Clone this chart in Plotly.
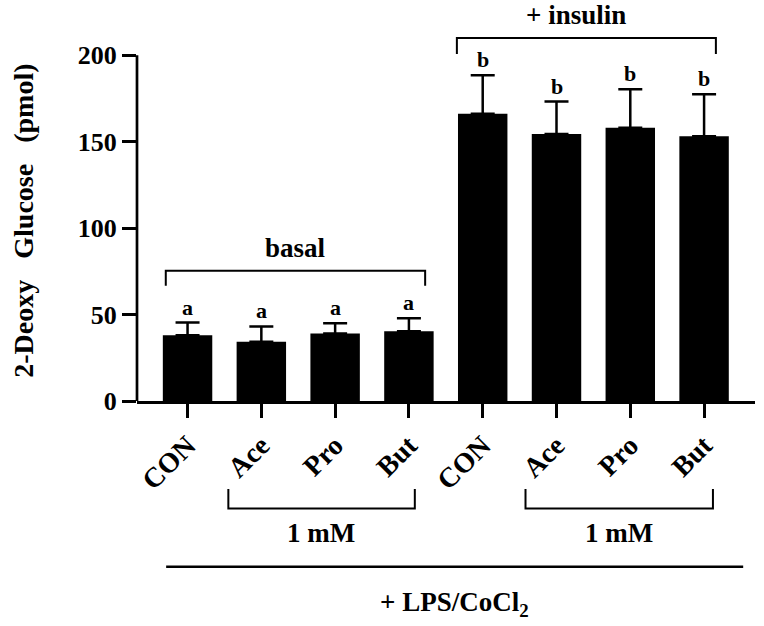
import plotly.graph_objects as go

# ---- data ----
categories = ["CON", "Ace", "Pro", "But", "CON", "Ace", "Pro", "But"]
means = [38.1, 34.2, 39.0, 40.4, 166.2, 154.4, 158.1, 153.2]
errors = [7.3, 8.9, 6.0, 7.5, 22.2, 18.8, 22.2, 24.2]
letters = ["a", "a", "a", "a", "b", "b", "b", "b"]
y_ticks = [0, 50, 100, 150, 200]

x = list(range(len(categories)))

FONT = "Liberation Serif"
X_RANGE = [-0.685, 7.69]
Y_RANGE = [0, 225]
M_L, M_R, M_T, M_B = 137, 9, 12.3, 225
W, H = 764, 626
PLOT_H = H - M_T - M_B
PLOT_W = W - M_L - M_R


def below(px):
    """paper y for a distance in pixels below the x axis"""
    return -px / PLOT_H


def bold(size):
    return dict(family=FONT, size=size, color="black", weight="bold")


fig = go.Figure()
fig.add_trace(go.Bar(
    x=x, y=means, width=0.67,
    marker=dict(color="black", line=dict(width=0)),
    error_y=dict(type="data", symmetric=False, array=errors,
                 arrayminus=[0] * len(errors), color="black",
                 thickness=2.5, width=12),
    showlegend=False,
))

# significance letters
for xi, m, e, t in zip(x, means, errors, letters):
    fig.add_annotation(x=xi, y=m + e, text=t, showarrow=False, yanchor="bottom",
                       xanchor="center", yshift=1, font=bold(22))

line_style = dict(color="black", width=2)

# y axis line (0..200 only)
fig.add_shape(type="line", xref="paper", yref="y", x0=0, x1=0, y0=0, y1=200,
              line=dict(color="black", width=2.7))

# basal bracket
fig.add_shape(type="path", xref="x", yref="y",
              path="M -0.295,66.6 L -0.295,75.4 L 3.22,75.4 L 3.22,66.6", line=line_style)
fig.add_annotation(x=1.46, y=88.6, text="basal", showarrow=False,
                   xanchor="center", yanchor="middle", font=bold(27))
# insulin bracket
fig.add_shape(type="path", xref="x", yref="y",
              path="M 3.65,200.7 L 3.65,210 L 7.16,210 L 7.16,200.7", line=line_style)
fig.add_annotation(x=5.27, y=223, text="+ insulin", showarrow=False,
                   xanchor="center", yanchor="middle", font=bold(27))

# lower brackets (1 mM)
for x0, x1, xc in [(0.553, 3.08, 1.815), (4.58, 7.12, 5.85)]:
    fig.add_shape(type="path", xref="x", yref="paper",
                  path=f"M {x0},{below(88)} L {x0},{below(107.5)} L {x1},{below(107.5)} L {x1},{below(88)}",
                  line=line_style)
    fig.add_annotation(x=xc, xref="x", yref="paper", y=below(132), text="1 mM", showarrow=False,
                       xanchor="center", yanchor="middle", font=bold(27))

# LPS line and label
fig.add_shape(type="line", xref="x", yref="paper", x0=-0.29, x1=7.53,
              y0=below(165.7), y1=below(165.7), line=dict(color="black", width=2.5))
fig.add_annotation(x=3.62, xref="x", yref="paper", y=below(203), text="+ LPS/CoCl<sub>2</sub>",
                   showarrow=False, xanchor="center", yanchor="middle", font=bold(27))

# y axis title
fig.add_annotation(xref="paper", yref="y", x=(23.5 - M_L) / PLOT_W, y=104,
                   text="2-Deoxy\u00a0\u00a0\u00a0Glucose\u00a0\u00a0\u00a0(pmol)", textangle=-90,
                   showarrow=False, xanchor="center", yanchor="middle", font=bold(28))

fig.update_layout(
    width=W, height=H,
    margin=dict(l=M_L, r=M_R, t=M_T, b=M_B, pad=0),
    plot_bgcolor="white", paper_bgcolor="white",
    bargap=0.33,
    xaxis=dict(range=X_RANGE, tickvals=x, ticktext=categories, tickangle=-45,
               showline=True, linecolor="black", linewidth=2.7,
               ticks="outside", ticklen=14, tickwidth=2.5, tickcolor="black",
               showgrid=False, zeroline=False, tickfont=bold(28)),
    yaxis=dict(range=Y_RANGE, tickvals=y_ticks, showline=False,
               ticks="outside", ticklen=14, tickwidth=2.5, tickcolor="black",
               showgrid=False, zeroline=False, tickfont=bold(26)),
)

fig.write_html("out.html")
